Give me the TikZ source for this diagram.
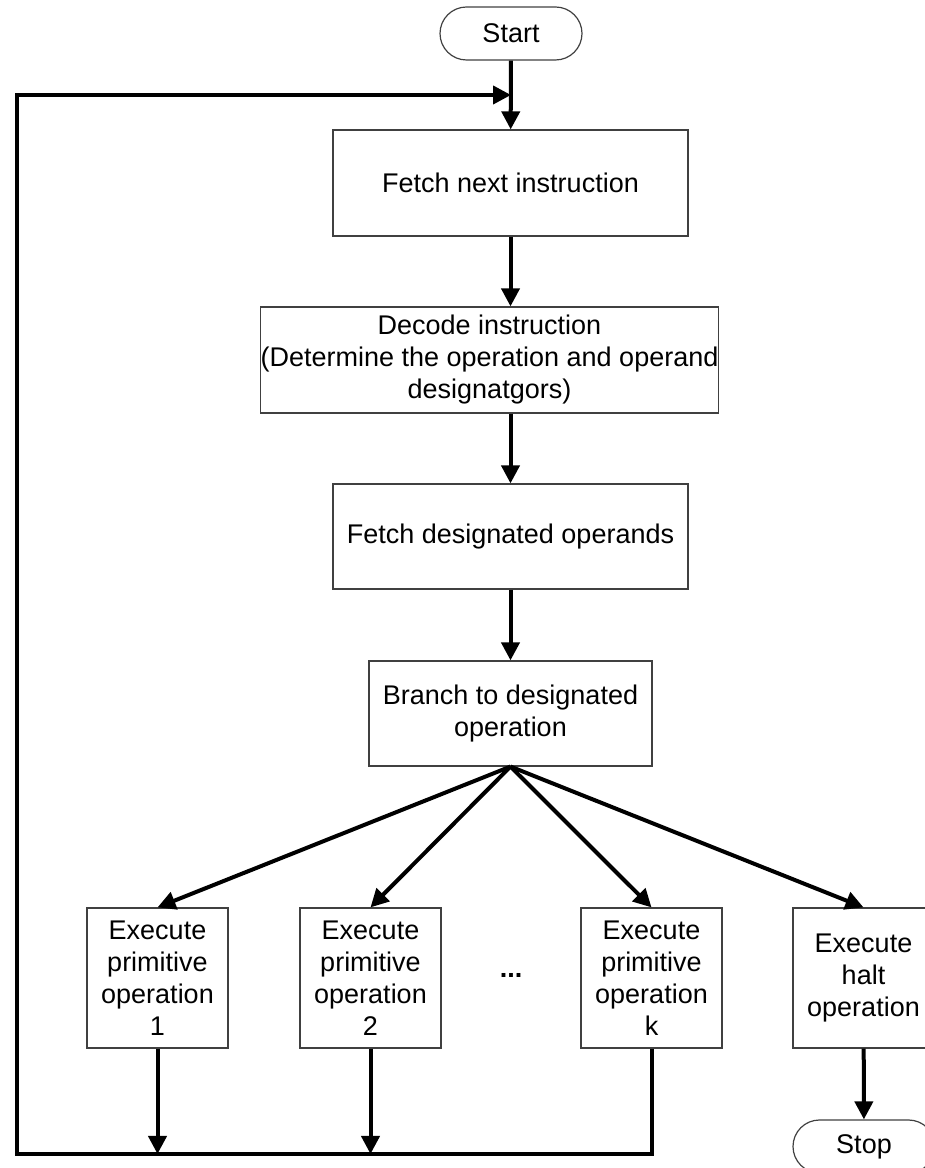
\documentclass[tikz,border=0pt]{standalone}
\usepackage{fontspec}
\setmainfont{Liberation Sans}
\usetikzlibrary{arrows.meta}

\begin{document}
\begin{tikzpicture}[x=0.5pt, y=0.5pt, line width=2pt,
    box/.style={draw=black!75, line width=0.6pt, rectangle, inner sep=0pt, align=center, font=\fontsize{13.5}{16}\selectfont},
    term/.style={box, rounded corners=13.25pt, minimum width=71pt, minimum height=26.5pt},
    opbox/.style={box, minimum width=70.5pt, minimum height=70pt},
    arr/.style={-{Triangle[length=9pt, width=9pt]}, line width=2pt}]
    \useasboundingbox (0, 0) rectangle (925, 1168);

    % draw terminals
    \node[term] (start) at (511, 1134.5) {Start};
    \node[term] (stop) at (864, 21.5) {Stop};

    % draw steps
    \node[box, minimum width=177.5pt, minimum height=53pt] (fetch) at (510.5, 985) {Fetch next instruction};
    \node[box, minimum width=217.5pt, minimum height=53pt] (decode) at (489.5, 808) {Decode instruction\\ (Determine the operation and operand\\ designatgors)};
    \node[box, minimum width=177.5pt, minimum height=52.5pt] (operands) at (510.5, 631.5) {Fetch designated operands};
    \node[box, minimum width=141.5pt, minimum height=52.5pt] (branch) at (510.5, 454.5) {Branch to designated\\ operation};

    % draw operations
    \node[opbox] (op1) at (157.5, 190) {Execute\\ primitive\\ operation\\ 1};
    \node[opbox] (op2) at (370.5, 190) {Execute\\ primitive\\ operation\\ 2};
    \node[opbox] (opk) at (651.5, 190) {Execute\\ primitive\\ operation\\ k};
    \node[opbox] (halt) at (863.5, 190) {Execute\\ halt\\ operation};
    \node[font=\fontsize{13.5}{16}\selectfont\bfseries] (dots) at (511, 193) {...};

    % loop corners
    \coordinate (loopTL) at (17, 1073);
    \coordinate (loopBL) at (17, 14);

    % draw arrows
    \draw[arr] (start) -- (fetch);
    \draw[arr] (fetch.south) -- (fetch.south |- decode.north);
    \draw[arr] (fetch.south |- decode.south) -- (operands);
    \draw[arr] (operands) -- (branch);
    \foreach \op in {op1, op2, opk, halt}
        \draw[arr] (branch.south) -- (\op.north);
    \draw[arr] (halt) -- (stop);
    \foreach \op in {op1, op2}
        \draw[arr] (\op.south) -- (\op.south |- loopBL);
    \draw[arr] (opk.south) |- (loopBL) -- (loopTL) -- (loopTL -| start);
\end{tikzpicture}
\end{document}
